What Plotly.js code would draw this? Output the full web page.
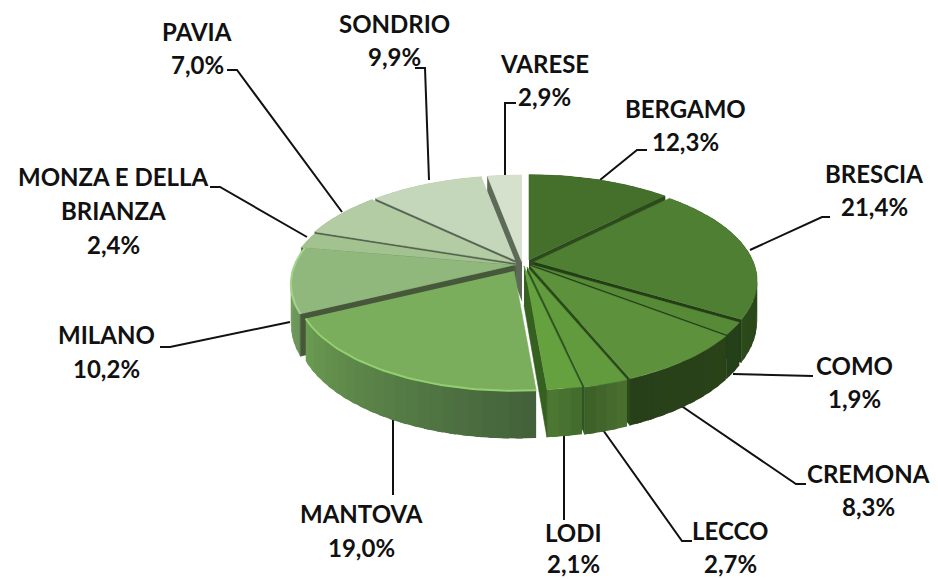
<!DOCTYPE html>
<html><head><meta charset="utf-8">
<script src="https://cdn.plot.ly/plotly-3.0.1.min.js"></script>
<style>html,body{margin:0;padding:0;background:#fff}#chart{width:938px;height:579px}</style>
</head><body><div id="chart"></div>
<script>
const categories = ['BERGAMO','BRESCIA','COMO','CREMONA','LECCO','LODI','MANTOVA','MILANO','MONZA E DELLA BRIANZA','PAVIA','SONDRIO','VARESE'];
const shares = [12.3,21.4,1.9,8.3,2.7,2.1,19.0,10.2,2.4,7.0,9.9,2.9];

// styles
const topColors  = ['#44702c','#4f7f33','#578a37','#5e913c','#629a3e','#65a23f','#7aad5c','#90b87c','#a2c28f','#b3cca3','#c5d7ba','#d5e1cd'];
const faceColors = ['#2c4a1b','#233e15','#24401a','#2a4a1a','#2f5520','#35601f','#42603a','#46573a','#505f45','#566350','#5a6655','#5e6a58'];
const wallLeft   = ['#2c4a1b','#2c4a1b','#24401a','#27401a','#3c5f27','#4e7a34','#6c9c52','#7da565','#8aad75','#9ab88a','#a8c29a','#b5cca8'];
const wallRight  = ['#2c4a1b','#213a12','#24401a','#2a4218','#4b7031','#3f6a2c','#42603a','#6b9458','#8aad75','#9ab88a','#a8c29a','#b5cca8'];
const rimColors  = [null,null,null,null,null,null,'#93d070','#a5d48f',null,null,null,null];
const explodeX   = [7,12,10,8,5,2,-8,-8,-6,-6,-7,0];
const explodeY   = [-2,0,3,4,5,4,9,3,3,1,-2,0];
const radiusK    = [.98,.975,.975,.98,.98,.985,.95,.975,1,1,.97,1];

// label placement
const labelX = [685,874,854,868,730,573,361,106,113,197,394,544];
const labelY = [[108,141],[173,206],[365,398],[473,506],[530,563],[532,563],[513,547],[334,368],[176,210,244],[31,64],[23,56],[63,96]];
const leaderX = [[647,637,600],[830,822,750],[813,733],[806,796,680],[692,682,603],[564,564],[393,393],[160,170,290],[210,220,307],[227,237,342],[415,425,429],[516,505,505]];
const leaderY = [[150,150,180],[217,217,250],[376,374],[484,484,405],[541,541,430],[435,520],[418,495],[347,347,322],[187,187,237],[70,70,212],[68,68,180],[103,103,175]];

const Cx=522, Cy=262, Rx=225, Ry=103, persp=0.183, depth=39;
const total = shares.reduce((a,b)=>a+b,0);
const rad = d=>d*Math.PI/180;
function pt(i,theta,r,z){
  const s=Math.sin(rad(theta)), c=Math.cos(rad(theta)), w=1+persp*c;
  const k=r*radiusK[i];
  return [Cx+explodeX[i]+Rx*k*s/w, Cy+explodeY[i]-Ry*k*c/w+z*depth/w];
}
function apex(i,z){return [Cx+explodeX[i], Cy+explodeY[i]+z*depth];}
function mix(a,b,t){
  const p=h=>[1,3,5].map(j=>parseInt(h.substr(j,2),16));
  const A=p(a),B=p(b);
  return 'rgb('+A.map((v,j)=>Math.round(v+(B[j]-v)*t)).join(',')+')';
}
function poly(pts,color,name,lw){
  return {type:'scatter',mode:'lines',x:pts.map(p=>p[0]),y:pts.map(p=>p[1]),fill:'toself',fillcolor:color,
    line:{color:color,width:lw===undefined?0.6:lw},hoverinfo:name?'text':'skip',text:name||'',showlegend:false};
}
const traces=[];
categories.forEach((c,i)=>{
  traces.push({type:'scatter',mode:'lines',x:leaderX[i],y:leaderY[i],line:{color:'#111',width:2},hoverinfo:'skip',showlegend:false});
});
let acc=0;
const wedges=shares.map((v,i)=>{const a=acc/total*360; acc+=v; return {i,a,b:acc/total*360,mid:(a+acc/total*360)/2};});
wedges.slice().sort((p,q)=>Math.cos(rad(q.mid))-Math.cos(rad(p.mid))).forEach(W=>{
  const {i,a,b}=W;
  // outer wall: overlapping shaded strips so no seams show
  const n=Math.max(2,Math.ceil((b-a)/3));
  for(let j=0;j<n;j++){
    const t1=a+(b-a)*j/n, t2=Math.min(b,a+(b-a)*(j+1)/n+1.5);
    const col=mix(wallRight[i],wallLeft[i],(j+.5)/n);
    const tm=(t1+t2)/2;
    traces.push(poly([pt(i,t1,1,0),pt(i,tm,1,0),pt(i,t2,1,0),pt(i,t2,1,1),pt(i,tm,1,1),pt(i,t1,1,1)],col,null,0));
  }
  if(Math.sin(rad(b))>0) traces.push(poly([apex(i,0),pt(i,b,1,0),pt(i,b,1,1),apex(i,1)],faceColors[i]));
  if(Math.sin(rad(a))<0) traces.push(poly([apex(i,0),pt(i,a,1,0),pt(i,a,1,1),apex(i,1)],faceColors[i]));
  const top=[apex(i,0)], arc=[];
  const m=Math.max(4,Math.ceil((b-a)/1.5));
  for(let j=0;j<=m;j++) arc.push(pt(i,a+(b-a)*j/m,1,0));
  traces.push(poly(top.concat(arc),topColors[i],categories[i]+': '+shares[i].toFixed(1).replace('.',',')+'%'));
  if(rimColors[i]) traces.push({type:'scatter',mode:'lines',x:arc.map(p=>p[0]),y:arc.map(p=>p[1]),line:{color:rimColors[i],width:2},hoverinfo:'skip',showlegend:false});
});
const annotations=[];
categories.forEach((c,i)=>{
  const pct=shares[i].toFixed(1).replace('.',',')+'%';
  const lines=c==='MONZA E DELLA BRIANZA'?['MONZA E DELLA','BRIANZA',pct]:[c,pct];
  lines.forEach((t,j)=>annotations.push({x:labelX[i],y:labelY[i][j],text:'<b>'+t+'</b>',showarrow:false,xanchor:'center',yanchor:'middle',
    font:{family:'Lato, sans-serif',size:24,color:'#111'}}));
});
Plotly.newPlot('chart',traces,{
  width:938,height:579,margin:{l:0,r:0,t:0,b:0},paper_bgcolor:'#fff',plot_bgcolor:'#fff',showlegend:false,
  xaxis:{range:[0,938],visible:false,fixedrange:true},
  yaxis:{range:[579,0],visible:false,fixedrange:true},
  annotations:annotations
},{displayModeBar:false});
</script></body></html>
